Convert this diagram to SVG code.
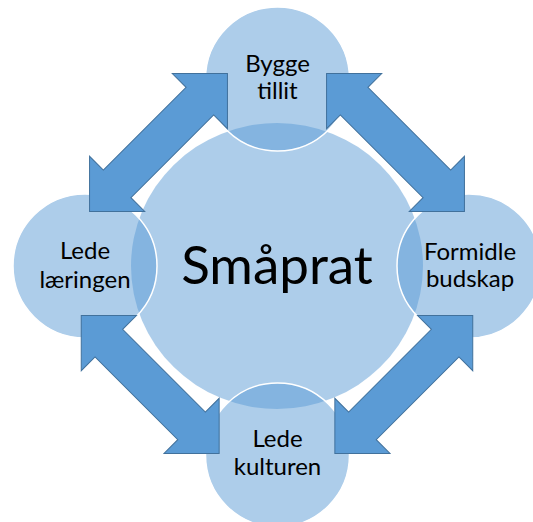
<svg xmlns="http://www.w3.org/2000/svg" width="533" height="522" viewBox="0 0 533 522">
  <style>
    .bg { fill: #ffffff; }
    .big { fill: #5b9bd5; fill-opacity: 0.5; }
    .small { fill: #5b9bd5; fill-opacity: 0.5; stroke: #ffffff; stroke-width: 1.5; }
    .arrow { fill: #5b9bd5; stroke: #41719c; stroke-width: 1; stroke-linejoin: miter; }
    .lbl { font-family: Lato, "Open Sans", sans-serif; font-size: 24px; fill: #000000; text-anchor: middle; }
    .title { font-family: Lato, "Open Sans", sans-serif; font-size: 53px; fill: #000000; text-anchor: middle; }
  </style>
  <defs>
    <path id="dbl-arrow" d="M 97.5,0 L 58.5,-39 L 58.5,-19.5 L -58.5,-19.5 L -58.5,-39 L -97.5,0 L -58.5,39 L -58.5,19.5 L 58.5,19.5 L 58.5,39 Z"/>
  </defs>
  <rect class="bg" x="0" y="0" width="533" height="522"/>

  <g id="node-center">
    <ellipse class="big" cx="277" cy="266" rx="146" ry="143"/>
    <text class="title" x="277" y="284">Småprat</text>
  </g>

  <g id="node-top">
    <circle class="small" cx="277.5" cy="79" r="72"/>
    <text class="lbl" x="277.5" y="72">Bygge</text>
    <text class="lbl" x="277.5" y="99">tillit</text>
  </g>

  <g id="node-right">
    <circle class="small" cx="469" cy="266" r="72"/>
    <text class="lbl" x="470" y="260">Formidle</text>
    <text class="lbl" x="470" y="287">budskap</text>
  </g>

  <g id="node-bottom">
    <circle class="small" cx="277.5" cy="455" r="72"/>
    <text class="lbl" x="277.5" y="447">Lede</text>
    <text class="lbl" x="277.5" y="475">kulturen</text>
  </g>

  <g id="node-left">
    <circle class="small" cx="85" cy="266" r="72"/>
    <text class="lbl" x="85" y="259">Lede</text>
    <text class="lbl" x="85" y="288">læringen</text>
  </g>

  <g id="connectors">
    <use href="#dbl-arrow" class="arrow" transform="translate(158.5,142.5) rotate(-45)"/>
    <use href="#dbl-arrow" class="arrow" transform="translate(395.5,142.5) rotate(45)"/>
    <use href="#dbl-arrow" class="arrow" transform="translate(150.2,384.5) rotate(45)"/>
    <use href="#dbl-arrow" class="arrow" transform="translate(403.8,384.5) rotate(-45)"/>
  </g>
</svg>
